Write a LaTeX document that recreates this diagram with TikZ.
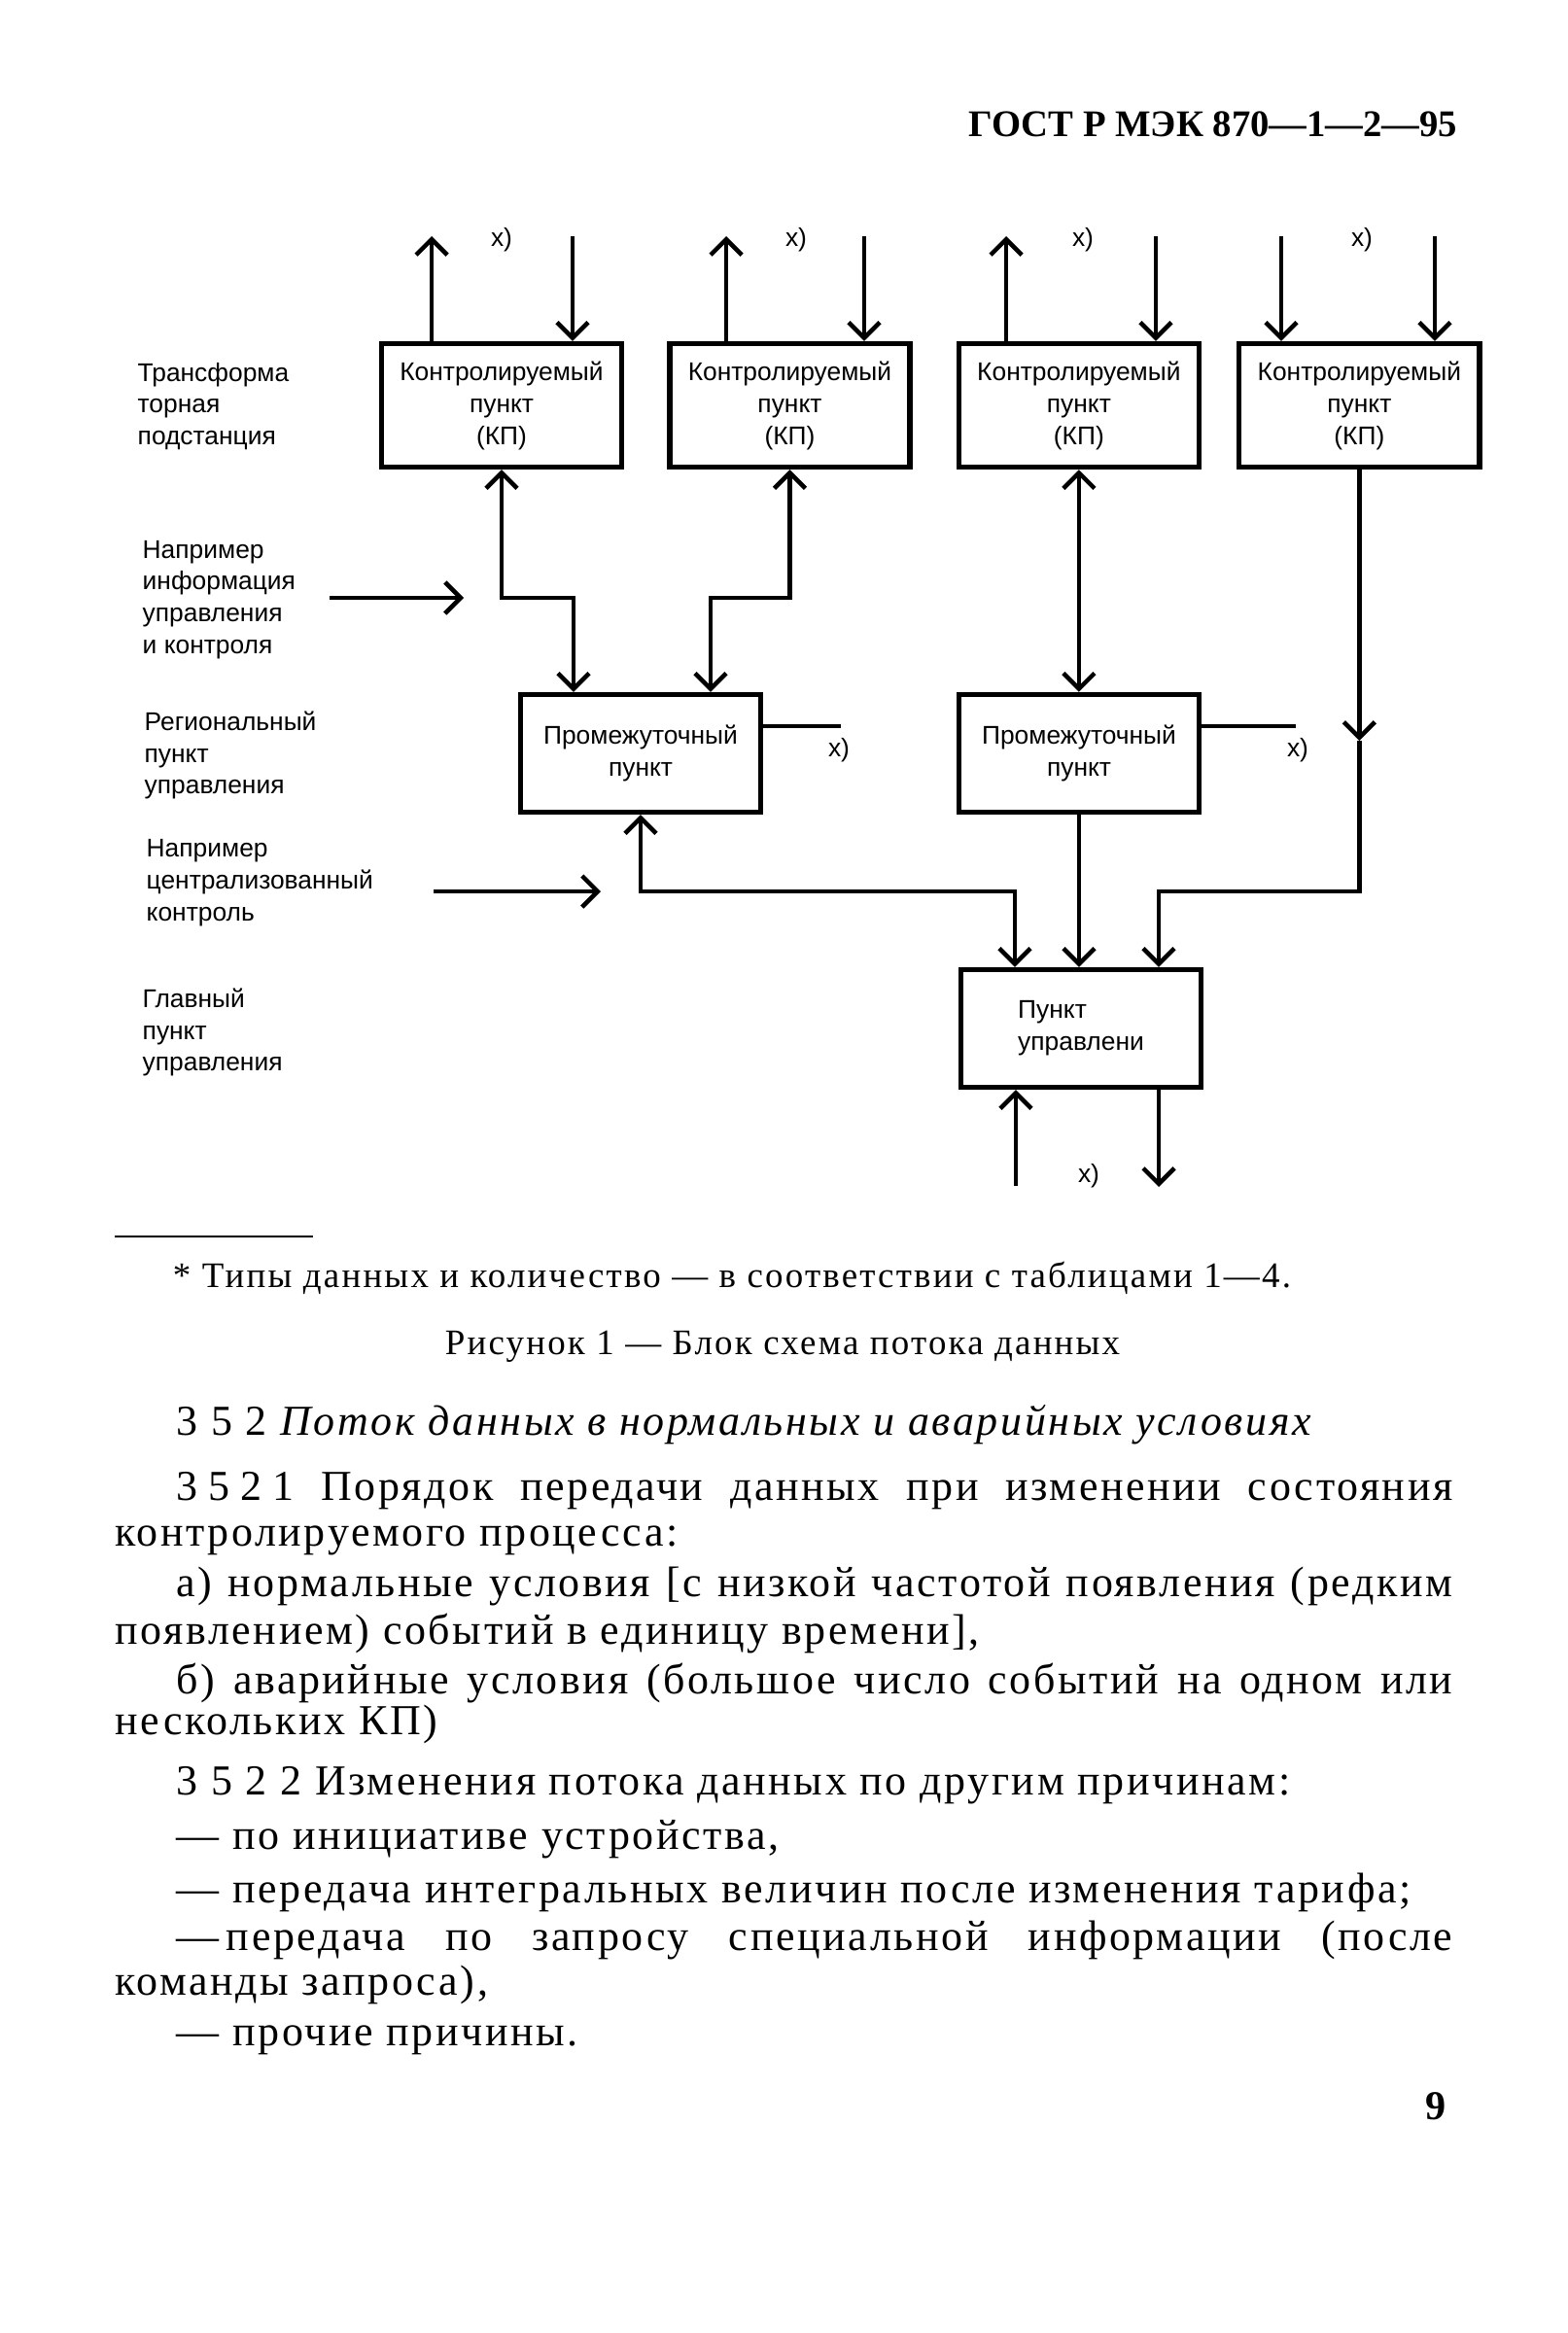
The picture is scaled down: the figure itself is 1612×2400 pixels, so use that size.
\documentclass[tikz,border=0pt]{standalone}
\usepackage{fontspec}
\newfontfamily\diagfont{Liberation Sans}
\newfontfamily\bodyfont[LetterSpace=6]{Liberation Serif}
\newfontfamily\headfont{Liberation Serif}
\usetikzlibrary{arrows.meta,positioning}

\begin{document}
\begin{tikzpicture}[
x=0.01cm, y=-0.01cm,
kpbox/.style={
draw,
line width=1.5pt,
minimum width=2.47cm,
minimum height=1.27cm,
align=center,
font=\diagfont\fontsize{7.5}{9.4}\selectfont
},
midbox/.style={
kpbox,
minimum height=1.21cm
},
link/.style={
line width=1.3pt
},
arr/.style={
link,
-{Straight Barb[length=1.6mm,width=3.2mm]}
},
twoway/.style={
link,
{Straight Barb[length=1.6mm,width=3.2mm]}-{Straight Barb[length=1.6mm,width=3.2mm]}
},
xnote/.style={
font=\diagfont\fontsize{7.5}{9}\selectfont
},
tier/.style={
anchor=west,
align=left,
inner sep=0pt,
font=\diagfont\fontsize{7.5}{9.3}\selectfont
},
bodyline/.style={
anchor=base west,
inner sep=0pt,
font=\bodyfont\fontsize{12.5}{14}\selectfont
},
smallline/.style={
anchor=base,
inner sep=0pt,
font=\bodyfont\fontsize{10.5}{12}\selectfont
}
]

\fill[white] (0,0) rectangle (1612,2400);
\useasboundingbox (0,0) rectangle (1612,2400);

% page head
\node[anchor=base east, inner sep=0pt, font=\headfont\bfseries\fontsize{11}{13}\selectfont] (head) at (1500,140) {ГОСТ Р МЭК 870—1—2—95};

% controlled stations
\node[kpbox] (kp1) at (516,417) {Контролируемый\\пункт\\(КП)};
\node[kpbox, right=0.44cm of kp1] (kp2) {Контролируемый\\пункт\\(КП)};
\node[kpbox, right=0.45cm of kp2] (kp3) {Контролируемый\\пункт\\(КП)};
\node[kpbox, right=0.36cm of kp3] (kp4) {Контролируемый\\пункт\\(КП)};

% intermediate and main stations
\node[midbox] (pa) at (659,775) {Промежуточный\\пункт};
\node[midbox] (pb) at (1110,775) {Промежуточный\\пункт};
\node[midbox, align=left] (pm) at (1112,1058) {Пункт\\управлени};

% level names
\node[tier] (t1) at (141,418) {Трансформа\\торная\\подстанция};
\node[tier] (t2) at (146,617) {Например\\информация\\управления\\и контроля};
\node[tier] (t3) at (148,777) {Региональный\\пункт\\управления};
\node[tier] (t4) at (150,908) {Например\\централизованный\\контроль};
\node[tier] (t5) at (146,1062) {Главный\\пункт\\управления};

% free ends
\coordinate (o1) at (444,243);
\coordinate (i1) at (589,243);
\coordinate (o2) at (747,243);
\coordinate (i2) at (889,243);
\coordinate (o3) at (1035,243);
\coordinate (i3) at (1189,243);
\coordinate (i4) at (1318,243);
\coordinate (i5) at (1476,243);
\coordinate (xa) at (865,747);
\coordinate (xb) at (1333,747);
\coordinate (b1) at (1045,1220);
\coordinate (b2) at (1192,1221);
\coordinate (s1) at (339,615);
\coordinate (e1) at (477,615);
\coordinate (s2) at (446,917);
\coordinate (e2) at (618,917);

% corners
\coordinate (j1) at (590,615);
\coordinate (j2) at (731,615);
\coordinate (m4) at (kp4.south |- 0,762);
\coordinate (j4) at (1192,917);
\coordinate (j5) at (1044,917);

\draw[arr] (kp1.north -| o1) -- (o1);
\draw[arr] (i1) -- (kp1.north -| i1);
\draw[arr] (kp2.north -| o2) -- (o2);
\draw[arr] (i2) -- (kp2.north -| i2);
\draw[arr] (kp3.north -| o3) -- (o3);
\draw[arr] (i3) -- (kp3.north -| i3);
\draw[arr] (i4) -- (kp4.north -| i4);
\draw[arr] (i5) -- (kp4.north -| i5);

\draw[twoway] (kp1.south) |- (j1) -- (pa.north -| j1);
\draw[twoway] (kp2.south) |- (j2) -- (pa.north -| j2);
\draw[twoway] (kp3.south) -- (kp3.south |- pb.north);
\draw[arr] (kp4.south) -- (m4);
\draw[arr] (m4) |- (j4) -- (pm.north -| j4);
\draw[twoway] (pa.south) |- (j5) -- (pm.north -| j5);
\draw[arr] (pb.south) -- (pb.south |- pm.north);

\draw[link] (pa.east |- xa) -- (xa);
\draw[link] (pb.east |- xb) -- (xb);

\draw[arr] (b1) -- (pm.south -| b1);
\draw[arr] (pm.south -| b2) -- (b2);

\draw[arr] (s1) -- (e1);
\draw[arr] (s2) -- (e2);

\node[xnote] (x1) at (516,247) {x)};
\node[xnote] (x2) at (819,247) {x)};
\node[xnote] (x3) at (1114,247) {x)};
\node[xnote] (x4) at (1401,247) {x)};
\node[xnote] (x5) at (863,772) {x)};
\node[xnote] (x6) at (1335,772) {x)};
\node[xnote] (x7) at (1120,1210) {x)};

% footnote and caption
\draw[line width=0.8pt] (118,1272) -- (322,1272);
\node[smallline] (foot) at (753,1324) {* Типы данных и количество — в соответствии с таблицами 1—4.};
\node[smallline] (cap) at (805,1393) {Рисунок 1 — Блок схема потока данных};

% text of the page
\node[bodyline] (h1) at (181,1476) {3 5 2 \textit{Поток данных в нормальных и аварийных условиях}};
\node[bodyline] (l1) at (181,1543) {\makebox[13.12cm][s]{3\hspace{0.25em}5\hspace{0.25em}2\hspace{0.25em}1 Порядок передачи данных при изменении состояния}};
\node[bodyline] (l2) at (118,1590) {контролируемого процесса:};
\node[bodyline] (l3) at (181,1642) {\makebox[13.12cm][s]{а) нормальные условия [с низкой частотой появления (редким}};
\node[bodyline] (l4) at (118,1691) {появлением) событий в единицу времени],};
\node[bodyline] (l5) at (181,1742) {\makebox[13.12cm][s]{б) аварийные условия (большое число событий на одном или}};
\node[bodyline] (l6) at (118,1784) {нескольких КП)};
\node[bodyline] (l7) at (181,1846) {3 5 2 2 Изменения потока данных по другим причинам:};
\node[bodyline] (l8) at (181,1902) {— по инициативе устройства,};
\node[bodyline] (l9) at (181,1957) {— передача интегральных величин после изменения тарифа;};
\node[bodyline] (l10) at (181,2006) {\makebox[13.12cm][s]{—\,передача по запросу специальной информации (после}};
\node[bodyline] (l11) at (118,2052) {команды запроса),};
\node[bodyline] (l12) at (181,2104) {— прочие причины.};
\node[anchor=base, inner sep=0pt, font=\headfont\bfseries\fontsize{12}{14}\selectfont] (pg) at (1477,2180) {9};

\end{tikzpicture}
\end{document}
